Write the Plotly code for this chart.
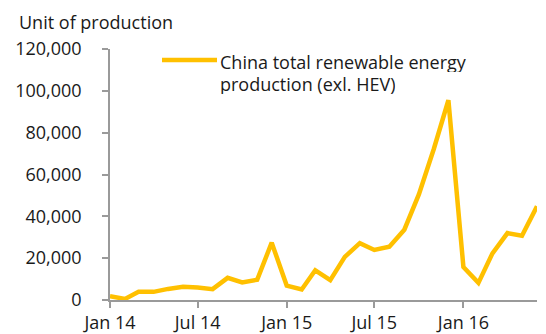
import plotly.graph_objects as go
import pandas as pd

months = pd.date_range("2014-01-01", "2016-06-01", freq="MS")
values = [1800, 500, 3900, 3900, 5300, 6300, 6000, 5200, 10600, 8400, 9700, 27400,
          6900, 5000, 14200, 9500, 20600, 27200, 23900, 25500, 33600, 50500, 72300, 95500,
          15800, 8200, 22300, 32000, 30700, 44800]
series_lines = ["China total renewable energy", "production (exl. HEV)"]
y_title = "Unit of production"
line_color = "#FFC000"
axis_color = "#9a9a9a"
font_family = "Open Sans"
fs = 18

L, R, T, B = 110, 9, 49, 34
W, H = 546, 334
pw, ph = W - L - R, H - T - B

fig = go.Figure()
fig.add_trace(go.Scatter(x=months, y=values, mode="lines",
                         line=dict(color=line_color, width=4.5),
                         name=" ".join(series_lines), showlegend=False))

fig.update_layout(
    width=W, height=H,
    margin=dict(l=L, r=R, t=T, b=B, autoexpand=False),
    plot_bgcolor="white", paper_bgcolor="white",
    font=dict(family=font_family, size=fs, color="#1a1a1a"),
    xaxis=dict(range=[months[0], months[-1]], tickformat="%b %y", dtick="M6",
               tick0="2014-01-01", showgrid=False, showline=True, linecolor=axis_color,
               linewidth=1.5, ticks="outside", ticklen=6, tickcolor=axis_color,
               tickwidth=1.5, zeroline=False, automargin=False),
    yaxis=dict(range=[0, 120000], dtick=20000, tickformat=",d", showgrid=False,
               showline=True, linecolor=axis_color, linewidth=1.5, ticks="outside",
               ticklen=6, tickcolor=axis_color, tickwidth=1.5, zeroline=False,
               ticklabelstandoff=17, automargin=False),
)

def px(x):
    return (x - L) / pw

def py(y):
    return (H - B - y) / ph

fig.add_annotation(text=y_title, xref="paper", yref="paper", x=px(17), y=py(21.5),
                   xanchor="left", yanchor="middle", showarrow=False,
                   font=dict(size=fs, family=font_family, color="#1a1a1a"))
# legend-like key
fig.add_shape(type="line", xref="paper", yref="paper",
              x0=px(162), x1=px(217), y0=py(60), y1=py(60),
              line=dict(color=line_color, width=4.5))
for i, txt in enumerate(series_lines):
    fig.add_annotation(text=txt, xref="paper", yref="paper",
                       x=px(218), y=py(61.7 + 21.3 * i), xanchor="left", yanchor="middle",
                       align="left", valign="middle", height=21, showarrow=False,
                       font=dict(size=fs, family=font_family, color="#1a1a1a"))

fig.write_html("out.html")
